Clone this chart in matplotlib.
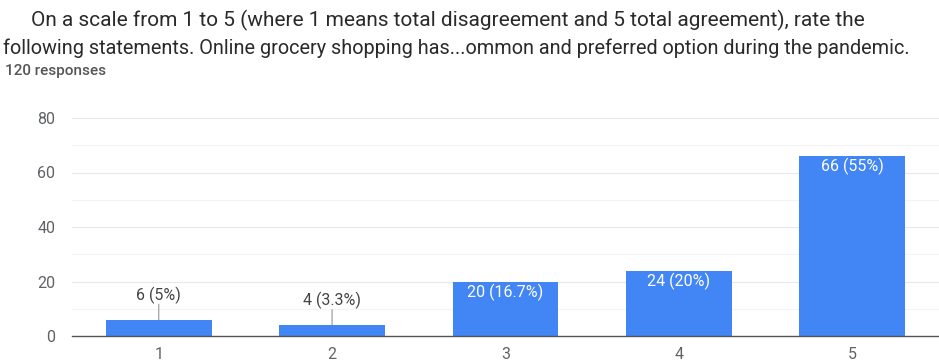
import matplotlib
matplotlib.use("Agg")
import matplotlib.pyplot as plt

plt.rcParams['font.family'] = ['Roboto', 'DejaVu Sans']

categories = ["1", "2", "3", "4", "5"]
counts = [6, 4, 20, 24, 66]
labels = ["6 (5%)", "4 (3.3%)", "20 (16.7%)", "24 (20%)", "66 (55%)"]
yticks = [0, 20, 40, 60, 80]
title_lines = ["On a scale from 1 to 5 (where 1 means total disagreement and 5 total agreement), rate the",
               "following statements. Online grocery shopping has...ommon and preferred option during the pandemic."]
subtitle = "120 responses"

W, H = 939, 361
fig = plt.figure(figsize=(W / 100, H / 100), dpi=100)
fig.patch.set_facecolor("white")

ax = fig.add_axes([72 / W, 1 - 336 / H, (939 - 72) / W, (336 - 118) / H])
x = list(range(1, len(categories) + 1))
bar_color = "#4285F4"
ax.bar(x, counts, width=0.61, color=bar_color, zorder=3)
ax.set_xlim(0.5, 5.5)
ax.set_ylim(0, 80)
ax.set_yticks(yticks)
ax.set_yticks([10, 30, 50, 70], minor=True)
ax.set_xticks(x)
ax.set_xticklabels(categories)
ax.tick_params(axis='both', length=0, colors="#5f6368", labelsize=11.5)
ax.tick_params(axis='y', which='minor', length=0)
ax.tick_params(axis='x', pad=8)
ax.tick_params(axis='y', pad=12)
ax.grid(axis='y', which='major', color="#e8e8e8", linewidth=0.8, zorder=0)
ax.grid(axis='y', which='minor', color="#f4f4f4", linewidth=0.8, zorder=0)
for s in ["top", "right", "left"]:
    ax.spines[s].set_visible(False)
ax.spines["bottom"].set_color("#555555")
ax.spines["bottom"].set_linewidth(1.0)
ax.spines["bottom"].set_zorder(4)

for xi, c, lab in zip(x, counts, labels):
    if c < 15:
        ax.annotate("", (xi, c), xytext=(0, 11), textcoords="offset points",
                    arrowprops=dict(arrowstyle="-", color="#aaaaaa", linewidth=1,
                                    shrinkA=0, shrinkB=0), zorder=2)
        ax.annotate(lab, (xi, c), xytext=(0, 11.5), textcoords="offset points",
                    ha="center", va="bottom", fontsize=11.5, color="#444444")
    else:
        ax.annotate(lab, (xi, c), xytext=(0, -7.5), textcoords="offset points",
                    ha="center", va="center", fontsize=11.5, color="white", zorder=5)

fig.text(31 / W, 1 - 20 / H, title_lines[0], ha="left", va="center", fontsize=15.0, color="#2a2a2a")
fig.text(3 / W, 1 - 48 / H, title_lines[1], ha="left", va="center", fontsize=14.3, color="#2a2a2a")
fig.text(5 / W, 1 - 71 / H, subtitle, ha="left", va="center", fontsize=11, fontweight="medium",
         color="#555555")

fig.savefig("out.png", dpi=100, facecolor="white")
